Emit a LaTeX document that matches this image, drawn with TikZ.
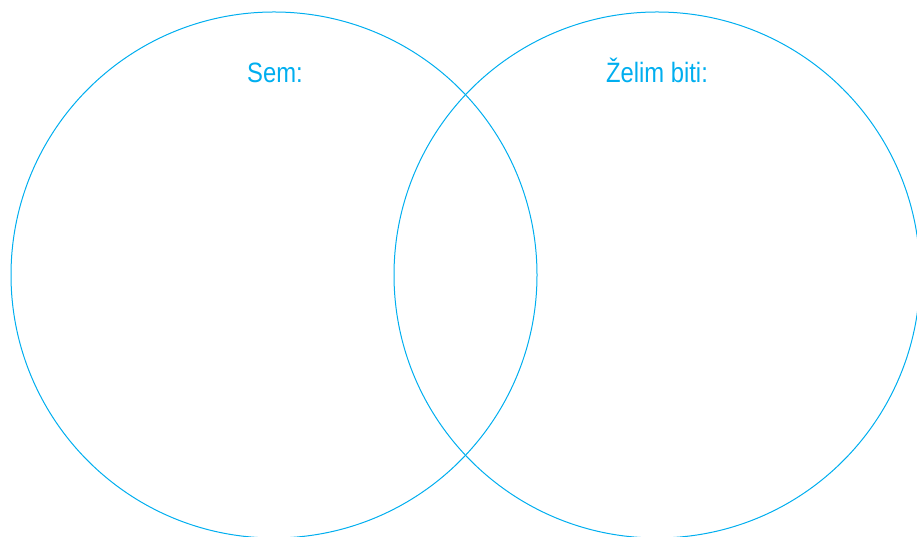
\documentclass[tikz,border=0pt]{standalone}
\usepackage{fontspec}
\setmainfont[FakeStretch=0.85]{Liberation Sans}
\definecolor{venncyan}{RGB}{0,174,239}
\tikzset{
  venncircle/.style={draw=venncyan, line width=1pt},
  venntitle/.style={text=venncyan, font=\fontsize{28}{30}\selectfont, anchor=base, inner sep=0pt}
}
\begin{document}
\begin{tikzpicture}[x=1pt,y=1pt]
  \useasboundingbox (0,0) rectangle (917,537);
  \clip (0,0) rectangle (917,537);
  \draw[venncircle] (274,262) circle[radius=263];
  \draw[venncircle] (657,262) circle[radius=263];
  \node[venntitle] (sem) at (275,454) {Sem:};
  \node[venntitle] (zelim) at (657,454) {Želim biti:};
\end{tikzpicture}
\end{document}
